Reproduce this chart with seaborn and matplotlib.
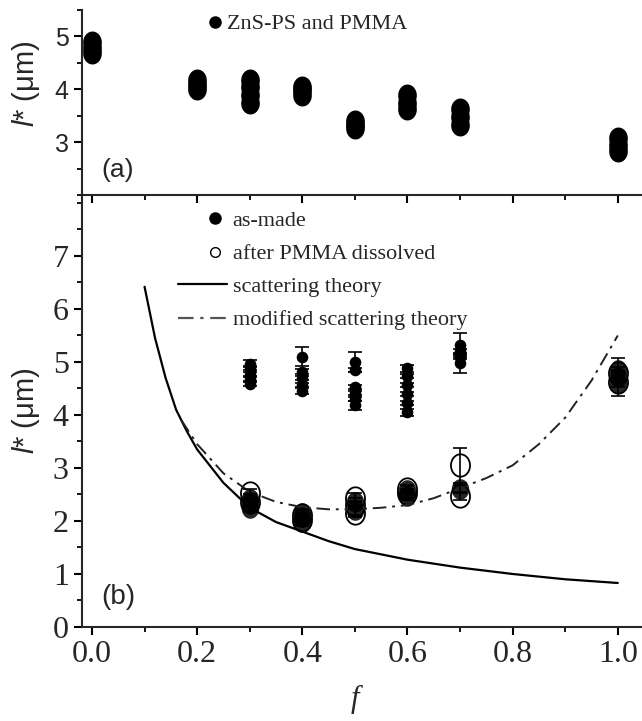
import numpy as np
import pandas as pd
import matplotlib.pyplot as plt
import seaborn as sns
from matplotlib.lines import Line2D
from matplotlib.path import Path
from matplotlib.ticker import MultipleLocator

# --- dados ---
# (a) ZnS-PS and PMMA
f_top = [0.0, 0.0, 0.0, 0.2, 0.2, 0.2, 0.3, 0.3, 0.3, 0.3, 0.4, 0.4, 0.4,
         0.5, 0.5, 0.5, 0.6, 0.6, 0.6, 0.7, 0.7, 0.7, 1.0, 1.0, 1.0]
l_top = [4.68, 4.78, 4.90, 4.00, 4.08, 4.18, 3.75, 3.90, 4.05, 4.18, 3.90, 3.98, 4.05,
         3.27, 3.33, 3.40, 3.62, 3.75, 3.90, 3.32, 3.47, 3.63, 2.83, 2.95, 3.08]

# (b) as-made, grupo de cima (marcadores pequenos)
f_made_hi = [0.3, 0.3, 0.3, 0.3, 0.3, 0.4, 0.4, 0.4, 0.4, 0.4, 0.5, 0.5, 0.5, 0.5, 0.5, 0.5,
             0.6, 0.6, 0.6, 0.6, 0.6, 0.6, 0.7, 0.7, 0.7, 0.7]
l_made_hi = [4.58, 4.68, 4.78, 4.88, 4.97, 4.45, 4.57, 4.70, 4.82, 5.10, 4.18, 4.30, 4.42, 4.53, 4.85, 5.00,
             4.05, 4.22, 4.40, 4.57, 4.73, 4.88, 4.98, 5.10, 5.20, 5.32]
e_made_hi = [0.04, 0.04, 0.04, 0.04, 0.06, 0.06, 0.04, 0.04, 0.04, 0.18, 0.08, 0.04, 0.04, 0.04, 0.04, 0.19,
             0.06, 0.04, 0.04, 0.04, 0.04, 0.06, 0.19, 0.04, 0.04, 0.22]

# (b) as-made, grupo de baixo (marcadores grandes)
f_made_lo = [0.3, 0.3, 0.3, 0.4, 0.4, 0.4, 0.5, 0.5, 0.6, 0.6, 0.7, 1.0, 1.0, 1.0]
l_made_lo = [2.25, 2.35, 2.42, 1.98, 2.08, 2.15, 2.20, 2.35, 2.48, 2.58, 2.60, 4.60, 4.72, 4.85]
e_made_lo = [0.08, 0.08, 0.08, 0.08, 0.08, 0.08, 0.08, 0.08, 0.08, 0.08, 0.08, 0.25, 0.10, 0.22]

# (b) after PMMA dissolved
f_diss = [0.3, 0.3, 0.4, 0.4, 0.5, 0.5, 0.5, 0.6, 0.6, 0.7, 0.7, 1.0, 1.0]
l_diss = [2.35, 2.52, 2.02, 2.12, 2.15, 2.30, 2.44, 2.52, 2.60, 2.47, 3.05, 4.62, 4.80]
e_diss = [0.08, 0.08, 0.08, 0.08, 0.08, 0.08, 0.08, 0.08, 0.08, 0.08, 0.33, 0.10, 0.10]

# curvas teóricas
f_theory = [0.10, 0.12, 0.14, 0.16, 0.18, 0.20, 0.25, 0.30, 0.35, 0.40, 0.45, 0.50,
            0.60, 0.70, 0.80, 0.90, 1.00]
l_theory = [6.42, 5.45, 4.70, 4.10, 3.70, 3.35, 2.72, 2.25, 1.98, 1.80, 1.62, 1.47,
            1.27, 1.12, 1.00, 0.90, 0.83]
f_mod = [0.17, 0.20, 0.25, 0.30, 0.35, 0.40, 0.45, 0.50, 0.55, 0.60, 0.65, 0.70,
         0.75, 0.80, 0.85, 0.90, 0.95, 1.00]
l_mod = [3.90, 3.45, 2.90, 2.55, 2.36, 2.26, 2.22, 2.22, 2.25, 2.30, 2.43, 2.62,
         2.81, 3.05, 3.45, 3.95, 4.65, 5.50]

# --- estilo ---
sns.set_style('ticks')
plt.rcParams['font.family'] = ['Liberation Serif', 'DejaVu Serif']
plt.rcParams['mathtext.fontset'] = 'custom'
plt.rcParams['mathtext.it'] = 'Liberation Sans:italic'
plt.rcParams['mathtext.rm'] = 'Liberation Sans'
plt.rcParams['axes.linewidth'] = 1.5

# marcador ligeiramente oval, como no original
t = np.linspace(0, 2 * np.pi, 60)
oval = Path(np.column_stack([0.85 * np.cos(t), np.sin(t)]), closed=True)
dashdot = (0, (7, 3, 1.5, 3))

fig = plt.figure(figsize=(6.42, 7.21), dpi=100)
ax_a = fig.add_axes([0.1277, 0.7295, 0.8723, 0.2566])
ax_b = fig.add_axes([0.1277, 0.1304, 0.8723, 0.5991])
# painel (a) por cima, para os ticks do eixo partilhado aparecerem
ax_a.set_zorder(3)
ax_a.patch.set_visible(False)

# --- painel (a) ---
sns.scatterplot(x=f_top, y=l_top, ax=ax_a, marker=oval, s=250, color='black',
                edgecolor='black', linewidth=0, legend=False)
ax_a.set_xlim(-0.019, 1.046)
ax_a.set_ylim(2.0, 5.5)
ax_a.set_yticks([3, 4, 5])
ax_a.yaxis.set_minor_locator(MultipleLocator(0.5))
ax_a.xaxis.set_major_locator(MultipleLocator(0.2))
ax_a.xaxis.set_minor_locator(MultipleLocator(0.1))
ax_a.tick_params(axis='x', labelbottom=False)
for lab in ax_a.get_yticklabels():
    lab.set_family('Liberation Sans')
    lab.set_fontsize(18)
ax_a.set_ylabel(r'$\mathit{l}$* (μm)', fontsize=21, family='Liberation Sans', va='center')
ax_a.yaxis.set_label_coords(-0.10, 0.60)
ax_a.text(0.064, 0.135, '(a)', transform=ax_a.transAxes, fontsize=19,
          family='Liberation Sans', ha='center', va='center')
ax_a.legend(handles=[Line2D([], [], ls='none', marker='o', color='black', markersize=8)],
            labels=['ZnS-PS and PMMA'], loc='center left', frameon=False, fontsize=16,
            bbox_to_anchor=(206 / 642, 1 - 24 / 721), bbox_transform=fig.transFigure,
            borderpad=0, borderaxespad=0, handlelength=0.8, handletextpad=0.15)

# --- painel (b) ---
sns.lineplot(x=f_theory, y=l_theory, ax=ax_b, color='black', lw=1.6, sort=False,
             estimator=None)
sns.lineplot(x=f_mod, y=l_mod, ax=ax_b, color='#222222', lw=1.4, sort=False,
             estimator=None, linestyle=dashdot)

for fx, ly, ee in [(f_made_hi, l_made_hi, e_made_hi), (f_made_lo, l_made_lo, e_made_lo),
                   (f_diss, l_diss, e_diss)]:
    ax_b.errorbar(fx, ly, yerr=ee, fmt='none', ecolor='black',
                  elinewidth=1.2, capsize=5, capthick=1.2)

sns.scatterplot(x=f_made_hi, y=l_made_hi, ax=ax_b, marker='o', s=70, color='black',
                edgecolor='black', linewidth=0, legend=False)
sns.scatterplot(x=f_diss, y=l_diss, ax=ax_b, marker=oval, s=260, color='white',
                edgecolor='black', linewidth=1.3, legend=False)
sns.scatterplot(x=f_made_lo, y=l_made_lo, ax=ax_b, marker=oval, s=220, color='black',
                edgecolor='black', linewidth=0, alpha=0.85, legend=False)

ax_b.set_xlim(-0.019, 1.046)
ax_b.set_ylim(0, 8.15)
ax_b.set_yticks(range(0, 8))
ax_b.yaxis.set_minor_locator(MultipleLocator(0.5))
ax_b.xaxis.set_minor_locator(MultipleLocator(0.1))
ax_b.set_xticks([0.0, 0.2, 0.4, 0.6, 0.8, 1.0])
ax_b.set_xticklabels(['0.0', '0.2', '0.4', '0.6', '0.8', '1.0'])
ax_b.tick_params(labelsize=23)
ax_b.set_ylabel(r'$\mathit{l}$* (μm)', fontsize=21, family='Liberation Sans', va='center')
ax_b.yaxis.set_label_coords(-0.10, 0.50)
ax_b.set_xlabel('f', fontsize=22, fontstyle='italic', va='center')
ax_b.xaxis.set_label_coords(0.4875, -0.168)
ax_b.text(0.064, 0.069, '(b)', transform=ax_b.transAxes, fontsize=20,
          family='Liberation Sans', ha='center', va='center')

h_pts = [Line2D([], [], ls='none', marker='o', color='black', markersize=8),
         Line2D([], [], ls='none', marker='o', mfc='white', mec='black', markersize=7)]
leg_pts = ax_b.legend(handles=h_pts, labels=['as-made', 'after PMMA dissolved'],
                      loc='upper left', frameon=False, fontsize=16,
                      bbox_to_anchor=(206 / 642, 1 - 210 / 721), bbox_transform=fig.transFigure,
                      borderpad=0, borderaxespad=0, handlelength=0.8, handletextpad=0.4,
                      labelspacing=0.6)
ax_b.add_artist(leg_pts)
h_lines = [Line2D([], [], color='black', lw=1.6),
           Line2D([], [], color='#555555', lw=1.6, linestyle=dashdot)]
ax_b.legend(handles=h_lines, labels=['scattering theory', 'modified scattering theory'],
            loc='upper left', frameon=False, fontsize=16,
            bbox_to_anchor=(178 / 642, 1 - 276 / 721), bbox_transform=fig.transFigure,
            borderpad=0, borderaxespad=0, handlelength=2.2, handletextpad=0.27,
            labelspacing=0.6)

# --- eixos ---
for ax in (ax_a, ax_b):
    ax.spines['right'].set_visible(False)
    ax.spines['top'].set_visible(False)
    ax.tick_params(which='major', direction='out', length=6, width=1.5, color='black')
    ax.tick_params(which='minor', direction='out', length=3.5, width=1.3, color='black')

fig.savefig('out.png', dpi=100, facecolor='white')
plt.close()
print('ok')
